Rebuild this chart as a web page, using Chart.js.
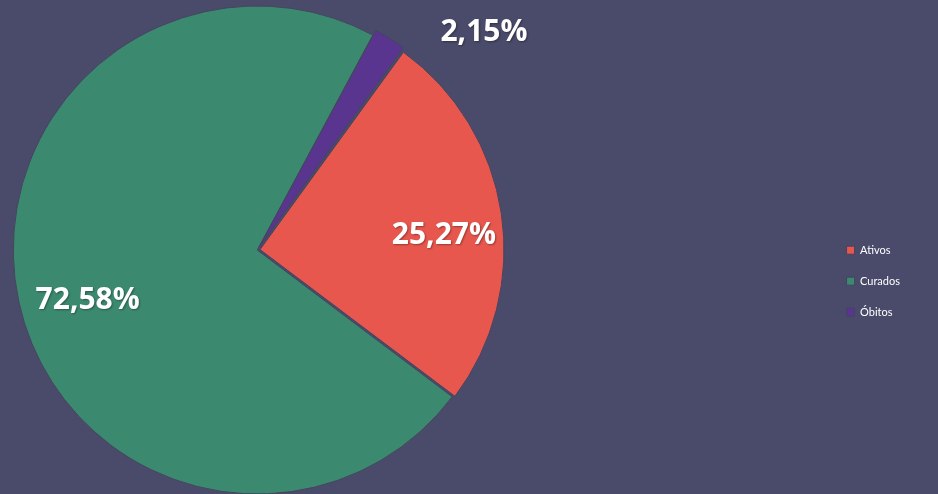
<!DOCTYPE html>
<html>
<head>
<meta charset="utf-8">
<script src="https://cdn.jsdelivr.net/npm/chart.js@4/dist/chart.umd.min.js"></script>
<style>
  html, body { margin: 0; padding: 0; background: #4a4a6a; overflow: hidden; }
  #wrap { width: 1250px; height: 494px; position: relative; left: -312px; }
</style>
</head>
<body>
<div id="wrap"><canvas id="myChart"></canvas></div>
<script>
var labels = ['Ativos', 'Curados', 'Óbitos'];
var values = [25.27, 72.58, 2.15];
var colors = ['#e8574d', '#3b8a70', '#5a3590'];
var offsets = [11, 0, 12];

// labels with comma decimals, drawn on top of the slices
var pctLabels = {
    id: 'pctLabels',
    afterDatasetsDraw: function (chart) {
        var ctx = chart.ctx;
        var arcs = chart.getDatasetMeta(0).data;
        ctx.save();
        ctx.font = 'bold 30px "Open Sans"';
        ctx.fillStyle = '#ffffff';
        ctx.textBaseline = 'middle';
        ctx.shadowColor = 'rgba(0,0,0,0.35)';
        ctx.shadowBlur = 2;
        ctx.shadowOffsetX = 1;
        ctx.shadowOffsetY = 1;
        for (var i = 0; i < arcs.length; i++) {
            var a = arcs[i];
            var p = a.getProps(['x', 'y', 'startAngle', 'endAngle', 'outerRadius']);
            var mid = (p.startAngle + p.endAngle) / 2;
            var off = offsets[i];
            var cx = p.x + Math.cos(mid) * off, cy = p.y + Math.sin(mid) * off;
            var txt = values[i].toFixed(2).replace('.', ',') + '%';
            if (values[i] < 5) {
                ctx.textAlign = 'left';
                ctx.fillText(txt, cx + Math.cos(mid) * p.outerRadius + 47, cy + Math.sin(mid) * p.outerRadius - 1);
            } else {
                ctx.textAlign = 'center';
                var r = p.outerRadius * 0.72;
                ctx.fillText(txt, cx + Math.cos(mid) * r + 2, cy + Math.sin(mid) * r + 13);
            }
        }
        ctx.restore();
    }
};

var ctx = document.getElementById('myChart').getContext('2d');
var myChart = new Chart(ctx, {
    type: 'pie',
    data: {
        labels: labels,
        datasets: [{
            data: values,
            backgroundColor: colors,
            borderColor: '#45455f',
            borderWidth: 1,
            offset: offsets
        }]
    },
    options: {
        responsive: true,
        maintainAspectRatio: false,
        animation: false,
        rotation: 36,
        radius: 244,
        layout: { padding: { left: 0, right: 28, top: 6, bottom: 0 } },
        plugins: {
            tooltip: { enabled: false },
            legend: {
                position: 'right',
                title: { display: true, text: ' ', padding: { top: 24, bottom: 24 } },
                labels: {
                    color: '#ffffff',
                    font: { family: 'Lato', size: 11 },
                    boxWidth: 8,
                    boxHeight: 8,
                    padding: 20
                }
            }
        }
    },
    plugins: [pctLabels]
});
</script>
</body>
</html>
